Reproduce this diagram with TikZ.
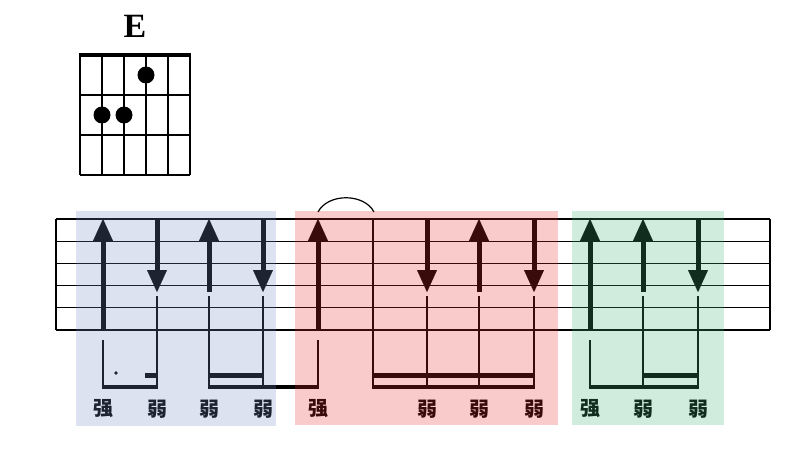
\documentclass[tikz,border=0pt]{standalone}
\usepackage{fontspec}
\usepackage{tikz}
\usetikzlibrary{arrows.meta}
\setmainfont{Liberation Serif}
\newfontfamily\cjk{Noto Sans CJK SC}
\definecolor{bandblue}{HTML}{748CC4}
\definecolor{bandred}{HTML}{E72F2F}
\definecolor{bandgreen}{HTML}{44B474}

\tikzset{
  strum/.style={line width=5pt, -{Triangle[width=20pt,length=22pt,line width=0.01pt]}},
  stem/.style={line width=1.2pt},
  beam/.style={line width=4.4pt},
  beat/.style={font=\cjk\bfseries\fontsize{20}{20}\selectfont},
  band/.style={fill opacity=0.25},
}

\begin{document}
\begin{tikzpicture}[x=1pt,y=-1pt]
  \useasboundingbox (0,0) rectangle (804,458);

  % Chord box
  \node[font=\fontsize{34}{34}\selectfont\bfseries] (chord) at (135,26) {E};
  \foreach \i in {0,...,5}
    \draw[line width=1.4pt] ({80+22*\i},55) -- ({80+22*\i},175);
  \foreach \y in {95,135,175}
    \draw[line width=1.4pt] (80,\y) -- (190,\y);
  \draw[line width=4pt] (79.3,55) -- (190.7,55);
  \fill (146,75) circle (8.5);
  \fill (102,115) circle (8.5);
  \fill (124,115) circle (8.5);

  % Staff
  \foreach \k in {0,...,5}
    \draw[stem] (56,{219+22.2*\k}) -- (770,{219+22.2*\k});
  \draw[stem] (56,219) -- (56,330);
  \draw[stem] (770,219) -- (770,330);

  % Strums
  \foreach \x/\ya/\yb in {103/330/219, 157/219/292, 209/292/219, 263/219/292,
                          318/330/219, 427/219/292, 479/292/219, 534/219/292,
                          590/330/219, 643/292/219, 698/219/292}
    \draw[strum] (\x,\ya) -- (\x,\yb);

  % Tie
  \draw[stem] (373,219) -- (373,389);
  \draw[stem] (318,212) .. controls (328,193) and (364,193) .. (374,212);

  % Stems
  \foreach \x in {103,318,590}
    \draw[stem] (\x,340) -- (\x,389);
  \foreach \x in {157,209,263,427,479,534,643,698}
    \draw[stem] (\x,296) -- (\x,389);

  % Beams
  \draw[beam] (102.4,387) -- (157.6,387);
  \draw[beam] (145,375.5) -- (157.6,375.5);
  \fill (116,373) circle (1.8);
  \draw[beam] (208.4,387) -- (318.6,387);
  \draw[beam] (208.4,375.5) -- (263.6,375.5);
  \draw[beam] (372.4,387) -- (534.6,387);
  \draw[beam] (372.4,375.5) -- (534.6,375.5);
  \draw[beam] (589.4,387) -- (698.6,387);
  \draw[beam] (642.4,375.5) -- (698.6,375.5);

  % Accents
  \foreach \x/\t [count=\i] in {103/强, 157/弱, 209/弱, 263/弱, 318/强, 427/弱,
                                479/弱, 534/弱, 590/强, 643/弱, 698/弱}
    \node[beat] (beat\i) at (\x,409) {\t};

  % Colour bands
  \fill[bandblue, band] (76,211) rectangle (276,426);
  \fill[bandred, band] (295,211) rectangle (558,425);
  \fill[bandgreen, band] (572,211) rectangle (724,425);
\end{tikzpicture}
\end{document}
